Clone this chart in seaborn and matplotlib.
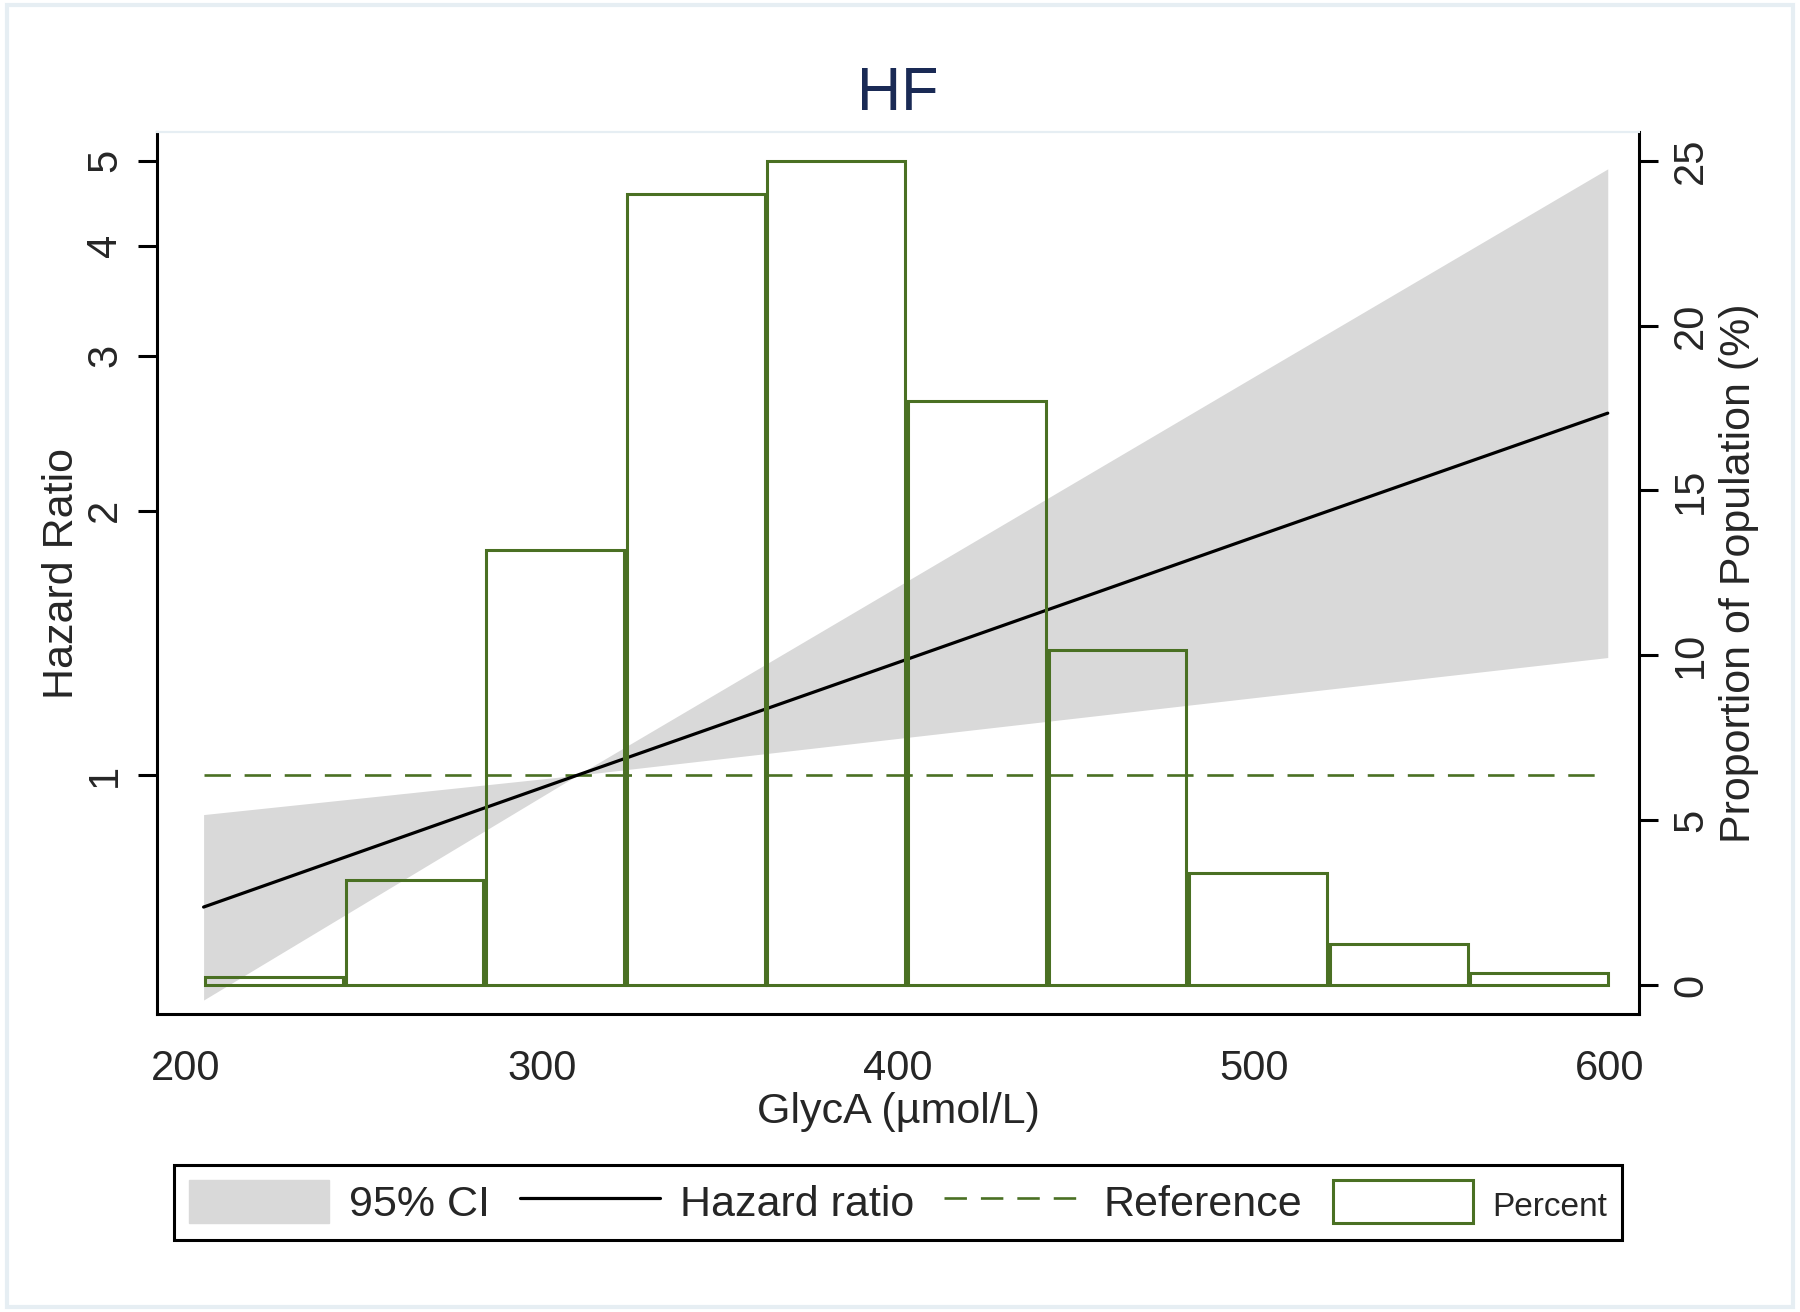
import numpy as np
import pandas as pd
import matplotlib
matplotlib.use("Agg")
import matplotlib.pyplot as plt
from matplotlib.patches import Patch, Rectangle
from matplotlib.lines import Line2D
import seaborn as sns

# ---------------------------------------------------------------
# Data
# ---------------------------------------------------------------
glyca = [205, 310, 400, 500, 599.5]            # umol/L
hazard_ratio = [0.708, 1.0, 1.343, 1.865, 2.581]
ci_upper = [0.902, 1.0, 1.639, 2.838, 4.894]
ci_lower = [0.555, 1.0, 1.101, 1.225, 1.361]

ref_x = [205, 596]
ref_hr = [1.0, 1.0]

bin_edges = [205, 244.5, 284, 323.5, 363, 402.5, 442, 481.5, 521, 560.5, 600]
percent = [0.25, 3.2, 13.2, 24.0, 25.0, 17.7, 10.15, 3.4, 1.25, 0.35]

hr_ticks = [1, 2, 3, 4, 5]
pct_ticks = [0, 5, 10, 15, 20, 25]
x_ticks = [200, 300, 400, 500, 600]

GREEN = '#4a7023'
GREY = '#d9d9d9'
NAVY = '#1a2a55'

sns.set_style('white')
plt.rcParams['font.family'] = ['Liberation Sans', 'DejaVu Sans']

df = pd.DataFrame({'x': glyca, 'hr': hazard_ratio, 'lo': ci_lower, 'hi': ci_upper})

fig = plt.figure(figsize=(18, 13.12), dpi=100)
ax = fig.add_axes([0.0872, 0.2271, 0.8234, 0.6723])
ax2 = ax.twinx()

# CI band + hazard ratio line + reference line (left, log axis)
ax.fill_between(df['x'], df['lo'], df['hi'], color=GREY, linewidth=0, zorder=1)
sns.lineplot(data=df, x='x', y='hr', ax=ax, color='black', linewidth=2.3, zorder=3)
ax.plot(ref_x, ref_hr, color=GREEN, linewidth=1.9, dashes=(10, 5.2), zorder=2)

ax.set_yscale('log')
ax.set_ylim(0.535, 5.39)
ax.set_yticks(hr_ticks)
ax.set_yticklabels([str(t) for t in hr_ticks])
ax.yaxis.set_minor_locator(matplotlib.ticker.NullLocator())
ax.set_xlim(191.9, 608.3)
ax.set_xticks(x_ticks)

# histogram (right axis)
edges = np.array(bin_edges)
widths = np.diff(edges)
ax2.bar(edges[:-1] + 0.4, percent, width=widths - 0.8, align='edge',
        facecolor='none', edgecolor=GREEN, linewidth=2.2, zorder=4)
ax2.set_ylim(-0.88, 25.87)
ax2.set_yticks(pct_ticks)

# styling of axes
for a in (ax, ax2):
    a.tick_params(axis='both', which='major', length=14, width=2.2,
                  labelsize=30, color='black', direction='out')
    for s in ('left', 'right', 'bottom'):
        a.spines[s].set_linewidth(2.2)
        a.spines[s].set_color('black')
    a.spines['top'].set_color('#e6eef3')
    a.spines['top'].set_linewidth(1.5)
ax.spines['right'].set_visible(False)
ax2.spines['left'].set_visible(False)
ax2.spines['bottom'].set_visible(False)

ax.tick_params(axis='x', pad=11)
ax.tick_params(axis='y', pad=9)
ax2.tick_params(axis='y', pad=9)
for lab in ax.get_yticklabels():
    lab.set_rotation(90)
    lab.set_va('center')
    lab.set_ha('right')
for lab in ax2.get_yticklabels():
    lab.set_rotation(90)
    lab.set_va('center')
    lab.set_ha('left')

ax.set_xlabel('GlycA (µmol/L)', fontsize=31)
ax.xaxis.set_label_coords(0.5, -0.088)
ax.set_ylabel('Hazard Ratio', fontsize=31)
ax.yaxis.set_label_coords(-0.0506, 0.5)
ax2.set_ylabel('Proportion of Population (%)', fontsize=31, rotation=90)
ax2.yaxis.set_label_coords(1.054, 0.5)

ax.set_title('HF', fontsize=44, color=NAVY, pad=16)

# legend
handles = [Patch(facecolor=GREY, edgecolor=GREY),
           Line2D([], [], color='black', linewidth=2.3),
           Line2D([], [], color=GREEN, linewidth=1.9, dashes=(8.5, 5.3)),
           Patch(facecolor='white', edgecolor=GREEN, linewidth=2.2)]
labels = ['95% CI', 'Hazard ratio', 'Reference', 'Percent']
leg = fig.legend(handles, labels, loc='center', bbox_to_anchor=(0.499, 0.0835),
                 ncol=4, fontsize=31, frameon=True, fancybox=False,
                 edgecolor='black', framealpha=1, handlelength=3.25,
                 handleheight=1.15, handletextpad=0.46, columnspacing=0.7,
                 borderpad=0.35)
leg.get_frame().set_linewidth(2.2)
leg.get_texts()[3].set_fontsize(24)

# light outer frame
fig.patches.append(Rectangle((0.004, 0.004), 0.992, 0.992, transform=fig.transFigure,
                             fill=False, edgecolor='#e6eef3', linewidth=3))

fig.savefig('out.png', dpi=100)
